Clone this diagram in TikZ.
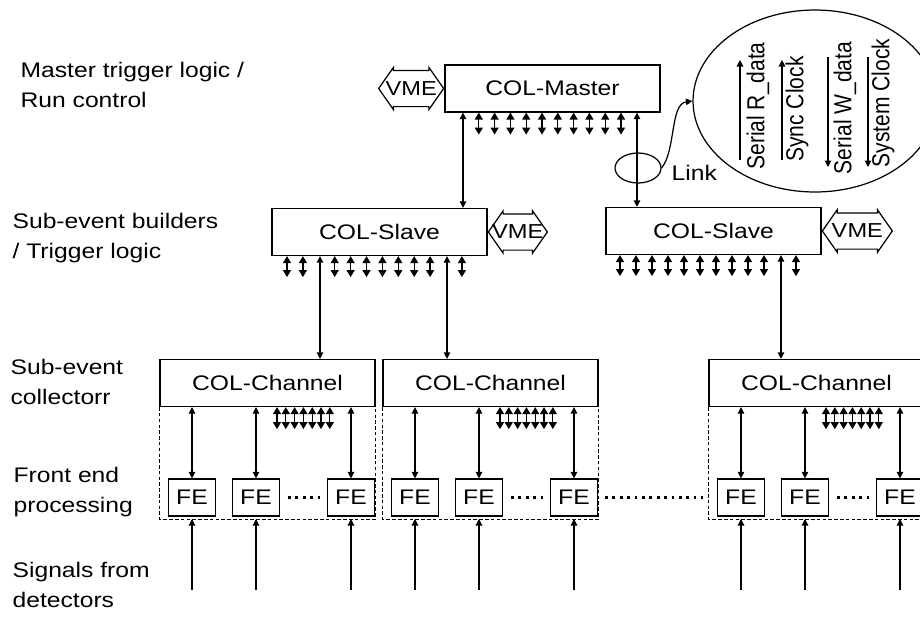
\documentclass[tikz,border=0pt]{standalone}
\usepackage{fontspec}
\setmainfont{Liberation Sans}[FakeStretch=1.17]
\newfontfamily\rotfont{Liberation Sans}[FakeStretch=0.855]
\usetikzlibrary{arrows.meta,shapes.arrows,shapes.geometric}
\tikzset{
  colbox/.style={draw,minimum width=4.3cm,minimum height=0.94cm,inner sep=0pt},
  febox/.style={draw,minimum width=0.94cm,minimum height=0.74cm,inner sep=0pt},
  vme/.style={draw,double arrow,double arrow head extend=0.06cm,double arrow tip angle=110,
    minimum height=#1,inner xsep=0pt,inner ysep=0.35cm,
    label={[font=\fontsize{11.5}{13}\selectfont]center:VME}},
  level/.style={anchor=west,align=left,inner sep=0pt},
  group/.style={dash pattern=on 2pt off 1.3pt,line width=0.5pt},
  dots/.style={line width=1.6pt,dash pattern=on 1.6pt off 2.6pt},
  bustip/.style={{Triangle[length=1.4mm,width=1.6mm]}-{Triangle[length=1.4mm,width=1.6mm]}},
  sig/.style={rotate=90,inner sep=0pt,font=\rotfont\fontsize{14}{17}\selectfont}
}
\begin{document}
\begin{tikzpicture}[x=0.02cm,y=-0.02cm,line width=0.7pt,
    >={Triangle[length=1.3mm,width=1.3mm]},font=\fontsize{12}{17}\selectfont]
  \useasboundingbox (0,0) rectangle (920,616);
  \clip (0,0) rectangle (920,616);
  \node[level] (l1) at (20,85) {Master trigger logic /\\Run control};
  \node[level] (l2) at (12,238) {Sub-event builders\\/ Trigger logic};
  \node[level] (l3) at (10,382) {Sub-event\\collectorr};
  \node[level] (l4) at (13,492) {Front end\\processing};
  \node[level] (l5) at (12,585) {Signals from\\detectors};

  \node[colbox] (m) at (552.5,88.5) {COL-Master};
  \node[colbox] (s1) at (379.5,232) {COL-Slave};
  \node[colbox] (s2) at (713.5,231) {COL-Slave};
  \node[vme=1.3cm,anchor=east] (vm) at (m.west) {};
  \node[vme=1.18cm,anchor=west] (v1) at (s1.east) {};
  \node[vme=1.4cm,anchor=west] (v2) at (s2.east) {};

  \foreach \i [evaluate=\i as \x using 463+15.8*\i] in {1,...,10}
    \draw[bustip] (\x,0 |- m.south) -- ++(0,22);
  \foreach \i [evaluate=\i as \x using 287+15.9*\i] in {0,1,3,4,5,6,7,8,9,11}
    \draw[bustip] (\x,0 |- s1.south) -- ++(0,21);
  \foreach \i [evaluate=\i as \x using 620+16*\i] in {0,...,9,11}
    \draw[bustip] (\x,0 |- s2.south) -- ++(0,21);

  \draw[<->] (463,0 |- m.south) -- (463,0 |- s1.north);
  \draw[<->] (637,0 |- m.south) -- (637,0 |- s2.north);

  \node[draw,ellipse,minimum width=0.92cm,minimum height=0.6cm,inner sep=0pt] (link) at (638,168) {};
  \node[anchor=west,inner sep=0pt] (linktext) at (671,173) {Link};
  \node[draw,ellipse,minimum width=4.88cm,minimum height=3.64cm,inner sep=0pt] (detail) at (815,101) {};
  \draw[->] (link.east) .. controls (676,150) and (670,104) .. (detail.west);
  \draw[->] (740,160) -- (740,60);
  \draw[->] (782,160) -- (782,60);
  \draw[->] (828,57) -- (828,167);
  \draw[->] (868,57) -- (868,167);
  \node[sig] (rdata) at (758,106) {Serial R\_data};
  \node[sig] (sync) at (797,109) {Sync Clock};
  \node[sig] (wdata) at (845,108) {Serial W\_data};
  \node[sig] (sysclk) at (883,103) {System Clock};

  \foreach \c/\l in {1/160,2/383,3/709} {
    \node[colbox] (c\c) at ({\l+107.5},383) {COL-Channel};
    \draw[group] (c\c.south west) -- (c\c.south west |- 0,519) -- (c\c.south east |- 0,519) -- (c\c.south east);
    \node[febox] (fe\c1) at ({\l+32},497.5) {FE};
    \node[febox] (fe\c2) at ({\l+96},497.5) {FE};
    \node[febox] (fe\c3) at ({\l+191},497.5) {FE};
    \foreach \f in {1,2,3} {
      \draw[<->] (fe\c\f.north) -- (fe\c\f |- c\c.south);
      \draw[->] (fe\c\f |- 0,590) -- (fe\c\f |- 0,519);
    }
    \foreach \j [evaluate=\j as \x using \l+117+8.8*\j] in {0,...,6}
      \draw[bustip] (\x,0 |- c\c.south) -- ++(0,22);
    \draw[dots] ([xshift=0.16cm]fe\c2.east) -- ([xshift=-0.04cm]fe\c3.west);
  }
  \draw[<->] (320,0 |- s1.south) -- (320,0 |- c1.north);
  \draw[<->] (447,0 |- s1.south) -- (447,0 |- c2.north);
  \draw[<->] (781,0 |- s2.south) -- (781,0 |- c3.north);
  \draw[dots] ([xshift=0.14cm]fe23.east) -- ([xshift=-0.28cm]fe31.west);
\end{tikzpicture}
\end{document}
